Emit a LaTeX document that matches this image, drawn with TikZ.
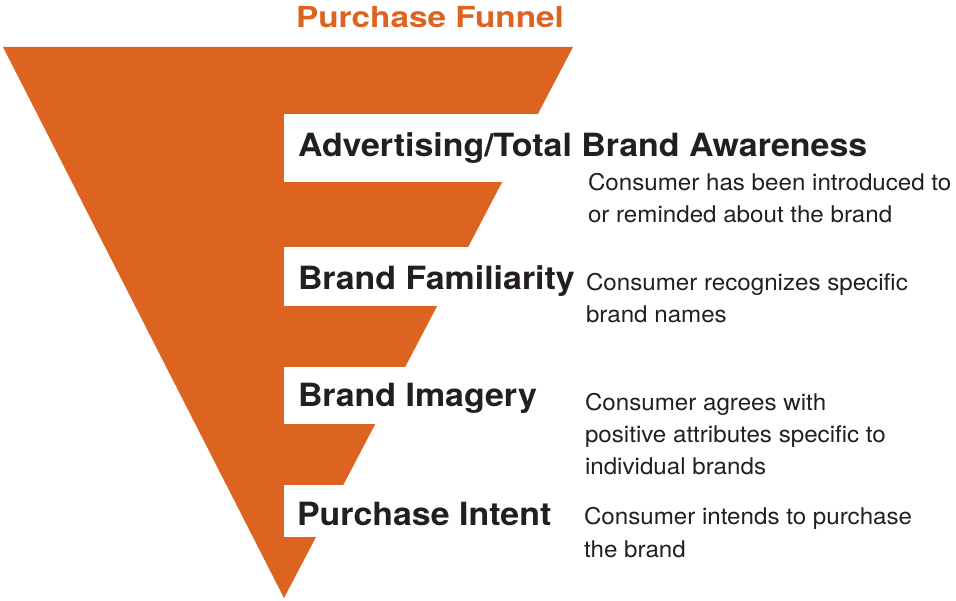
\documentclass[tikz,border=0pt]{standalone}
\usepackage{fontspec}
\setmainfont{TeX Gyre Heros}
\newfontfamily\widefont[FakeStretch=1.06]{TeX Gyre Heros}
\newfontfamily\titlefont[FakeStretch=1.15]{TeX Gyre Heros}
\newfontfamily\notefont[FakeStretch=1.05]{TeX Gyre Heros}
\usepackage{xcolor}
\usepackage{tikz}
\usetikzlibrary{positioning}
\definecolor{funnel}{RGB}{221,100,32}
\definecolor{ink}{RGB}{35,31,32}

\begin{document}
\begin{tikzpicture}[
    x=1pt,y=-1pt,
    outer sep=0pt,inner sep=0pt,
    stage/.style={anchor=base west,font=\widefont\fontsize{32}{34}\selectfont\bfseries,text=ink},
    note/.style={anchor=base west,align=left,font=\notefont\fontsize{23}{32.5}\selectfont,text=ink},
    ]
    \useasboundingbox (0,0) rectangle (956,601);

    % the funnel, then the white gaps cut into its right side
    \fill [funnel] (3,47) coordinate (ftl) -- (573,47) coordinate (ftr) -- (284,598) coordinate (apex) -- cycle;
    \foreach \top/\bot in {114/182, 247/306, 367/424, 485/537}
        \fill [white] (284,\top) rectangle (600,\bot);

    \node (title) [anchor=base,font=\titlefont\fontsize{29}{30}\selectfont\bfseries,text=funnel] at (430,28) {Purchase Funnel};

    \node (aware)  [stage] at (298,157) {Advertising/Total Brand Awareness};
    \node (famil)  [stage] at (298,290) {Brand Familiarity};
    \node (image)  [stage] at (298,407) {Brand Imagery};
    \node (intent) [stage] at (297,525) {Purchase Intent};

    % base of a wrapped note is its last line
    \node (awarenote)  [note] at (588,223) {Consumer has been introduced to\\or reminded about the brand};
    \node (familnote)  [note] at (586,323) {Consumer recognizes specific\\brand names};
    \node (imagenote)  [note] at (585,475) {Consumer agrees with\\positive attributes specific to\\individual brands};
    \node (intentnote) [note] at (584,557) {Consumer intends to purchase\\the brand};
\end{tikzpicture}
\end{document}
